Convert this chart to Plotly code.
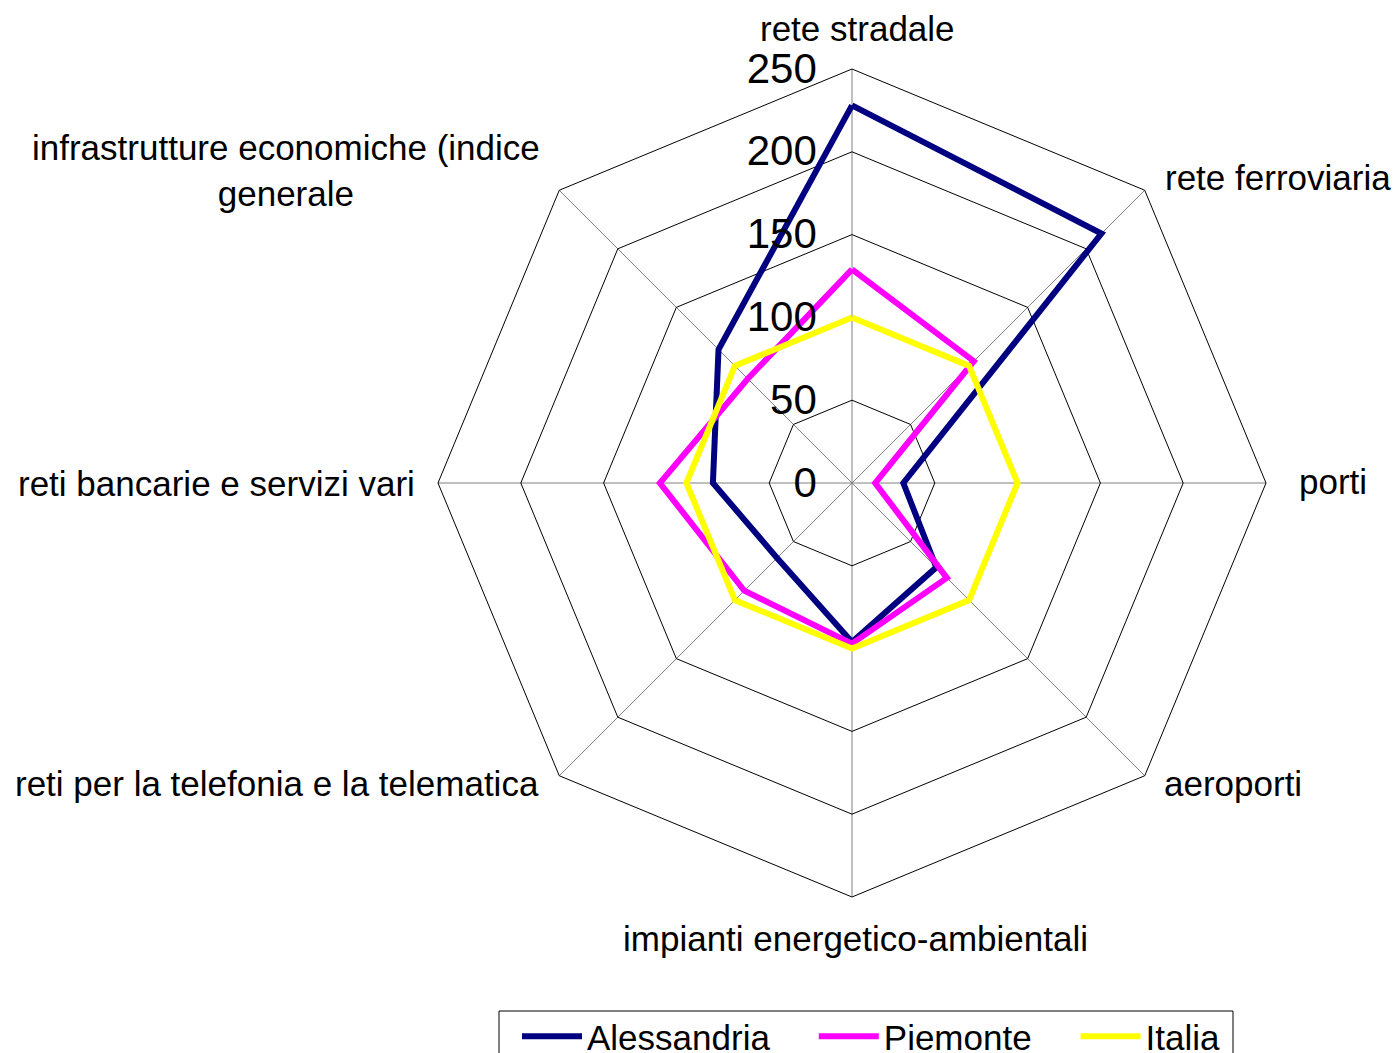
import math
import plotly.graph_objects as go

categories = [
    "rete stradale",
    "rete ferroviaria",
    "porti",
    "aeroporti",
    "impianti energetico-ambientali",
    "reti per la telefonia e la telematica",
    "reti bancarie e servizi vari",
    "infrastrutture economiche (indice<br>generale",
]
alessandria = [228, 213, 31, 72, 96, 64, 84, 114]
piemonte = [129, 104, 14, 81, 97, 92, 116, 89]
italia = [100, 100, 100, 100, 100, 100, 100, 100]
radial_ticks = [0, 50, 100, 150, 200, 250]
series_names = ["Alessandria", "Piemonte", "Italia"]
series_colors = ["#000080", "#FF00FF", "#FFFF00"]
series_values = [alessandria, piemonte, italia]

W, H = 1393, 1053
cx, cy, R = 852, 483, 414

fig = go.Figure()
pad_names = ["\u00a0" * 4, "\u00a0" * 4, ""]
for name, vals, col, padn in zip(series_names, series_values, series_colors, pad_names):
    fig.add_trace(go.Scatterpolar(
        r=vals + vals[:1],
        theta=categories + categories[:1],
        mode="lines",
        name=name + padn,
        line=dict(color=col, width=6),
        hoverinfo="name+r+theta",
    ))

# category labels placed just outside each outer vertex
label_offsets = [(5, -41), (18, -13), (31, -2), (17, 8), (3, 41), (-18, 8), (-21, 0), (-17, -20)]
annotations = []
n = len(categories)
for i, (cat, (dx, dy)) in enumerate(zip(categories, label_offsets)):
    th = 2 * math.pi * i / n
    vx = cx + R * math.sin(th)
    vy = cy - R * math.cos(th)
    s = math.sin(th)
    xa = "left" if s > 0.1 else ("right" if s < -0.1 else "center")
    annotations.append(dict(
        x=vx / W, y=1 - vy / H, xref="paper", yref="paper",
        xanchor=xa, yanchor="middle", xshift=dx, yshift=-dy,
        text=cat, showarrow=False, align="center",
        font=dict(size=35, color="black"),
    ))

fig.update_layout(
    width=W, height=H,
    margin=dict(l=0, r=0, t=0, b=0, autoexpand=False),
    paper_bgcolor="white",
    font=dict(family="Liberation Sans, Arial, sans-serif", color="black", size=35),
    polar=dict(
        domain=dict(x=[(cx - R) / W, (cx + R) / W], y=[(H - cy - R) / H, (H - cy + R) / H]),
        gridshape="linear",
        bgcolor="white",
        angularaxis=dict(
            rotation=90, direction="clockwise",
            showline=True, linecolor="black", linewidth=1,
            gridcolor="#808080", gridwidth=1,
            ticks="", showticklabels=False,
        ),
        radialaxis=dict(
            range=[0, 250], tickvals=radial_ticks,
            angle=90, tickangle=90, side="counterclockwise",
            showline=False, ticks="outside", ticklen=20, tickcolor="rgba(0,0,0,0)",
            gridcolor="black", gridwidth=1,
            tickfont=dict(size=42),
        ),
    ),
    legend=dict(
        orientation="h", x=(522 - 5) / W, y=1 - 1007 / H,
        xanchor="left", yanchor="top",
        borderwidth=0, font=dict(size=35), itemwidth=60,
        bgcolor="rgba(0,0,0,0)",
    ),
    shapes=[dict(
        type="rect", xref="paper", yref="paper",
        x0=499 / W, x1=1233 / W,
        y0=-0.05, y1=1 - 1011 / H,
        line=dict(color="black", width=1), fillcolor="rgba(0,0,0,0)",
    )],
    annotations=annotations,
)
fig.write_html(
    "out.html",
    config={"displayModeBar": False},
    post_script="document.body.style.margin='0';document.body.style.overflow='hidden';",
)
